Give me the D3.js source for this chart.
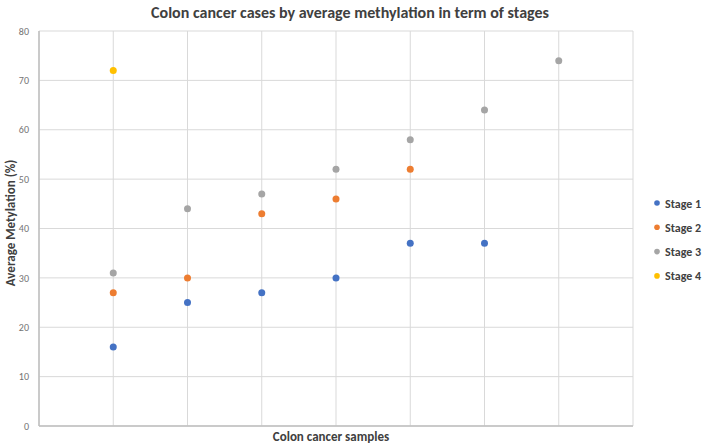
<!DOCTYPE html>
<html>
<head>
<meta charset="utf-8">
<script src="https://cdn.jsdelivr.net/npm/d3@7"></script>
<style>
  body { margin: 0; background: #fff; }
  svg text { font-family: Carlito, "Open Sans", "Liberation Sans", sans-serif; }
</style>
</head>
<body>
<div id="chart"></div>
<script>
// samples 1..7, value per stage (null = no point)
var samples = [1, 2, 3, 4, 5, 6, 7];
var stage1 = [16, 25, 27, 30, 37, 37, null];
var stage2 = [27, 30, 43, 46, 52, null, null];
var stage3 = [31, 44, 47, 52, 58, 64, 74];
var stage4 = [72, null, null, null, null, null, null];
var stageNames = ["Stage 1", "Stage 2", "Stage 3", "Stage 4"];
var stageColors = ["#4472C4", "#ED7D31", "#A5A5A5", "#FFC000"];
var yTicks = [0, 10, 20, 30, 40, 50, 60, 70, 80];

var series = [stage1, stage2, stage3, stage4];

var W = 709, H = 446;
var margin = {top: 31, right: 76, bottom: 20, left: 39};
var w = W - margin.left - margin.right,
    h = H - margin.top - margin.bottom;

var svg = d3.select("#chart").append("svg")
  .attr("width", W)
  .attr("height", H);

var g = svg.append("g")
  .attr("transform", "translate(" + margin.left + "," + margin.top + ")");

var x = d3.scaleLinear().domain([0, 8]).range([0, w]);
var y = d3.scaleLinear().domain([0, 80]).range([h, 0]);

// horizontal grid
g.append("g")
  .selectAll("line")
  .data(yTicks)
  .enter().append("line")
  .attr("x1", 0).attr("x2", w)
  .attr("y1", function(d) { return y(d); })
  .attr("y2", function(d) { return y(d); })
  .attr("stroke", "#d9d9d9")
  .attr("stroke-width", 1);

// vertical grid
g.append("g")
  .selectAll("line")
  .data(d3.range(0, 9))
  .enter().append("line")
  .attr("x1", function(d) { return x(d); })
  .attr("x2", function(d) { return x(d); })
  .attr("y1", 0).attr("y2", h)
  .attr("stroke", "#d9d9d9")
  .attr("stroke-width", 1);

// axis lines
g.append("line")
  .attr("x1", 0).attr("x2", 0).attr("y1", 0).attr("y2", h)
  .attr("stroke", "#bfbfbf").attr("stroke-width", 1.5);
g.append("line")
  .attr("x1", 0).attr("x2", w).attr("y1", h).attr("y2", h)
  .attr("stroke", "#bfbfbf").attr("stroke-width", 1.5);

// y tick labels
var yAxis = g.append("g")
  .call(d3.axisLeft(y).tickValues(yTicks).tickSize(0).tickPadding(10));
yAxis.select(".domain").remove();
yAxis.selectAll("text")
  .style("font-size", "10px")
  .attr("fill", "#737373");

// points
series.forEach(function(vals, si) {
  g.append("g")
    .selectAll("circle")
    .data(samples.map(function(s, i) { return {s: s, v: vals[i]}; })
      .filter(function(d) { return d.v != null; }))
    .enter().append("circle")
    .attr("cx", function(d) { return x(d.s); })
    .attr("cy", function(d) { return y(d.v); })
    .attr("r", 3.5)
    .attr("fill", stageColors[si]);
});

// title
svg.append("text")
  .attr("x", 350)
  .attr("y", 18)
  .attr("text-anchor", "middle")
  .style("font-size", "16px")
  .style("font-weight", "bold")
  .attr("fill", "#404040")
  .text("Colon cancer cases by average methylation in term of stages");

// axis titles
svg.append("text")
  .attr("x", 331)
  .attr("y", 441)
  .attr("text-anchor", "middle")
  .style("font-size", "13px")
  .style("font-weight", "bold")
  .attr("fill", "#404040")
  .text("Colon cancer samples");

svg.append("text")
  .attr("transform", "translate(15,223) rotate(-90)")
  .attr("text-anchor", "middle")
  .style("font-size", "13px")
  .style("font-weight", "bold")
  .attr("fill", "#404040")
  .text("Average Metylation (%)");

// legend
var legend = svg.append("g")
  .attr("transform", "translate(657,203)");
var item = legend.selectAll("g")
  .data(stageNames)
  .enter().append("g")
  .attr("transform", function(d, i) { return "translate(0," + (i * 24.3) + ")"; });
item.append("circle")
  .attr("r", 2.8)
  .attr("fill", function(d, i) { return stageColors[i]; });
item.append("text")
  .attr("x", 8)
  .attr("y", 4.5)
  .style("font-size", "12px")
  .style("font-weight", "bold")
  .attr("fill", "#404040")
  .text(function(d) { return d; });
</script>
</body>
</html>
